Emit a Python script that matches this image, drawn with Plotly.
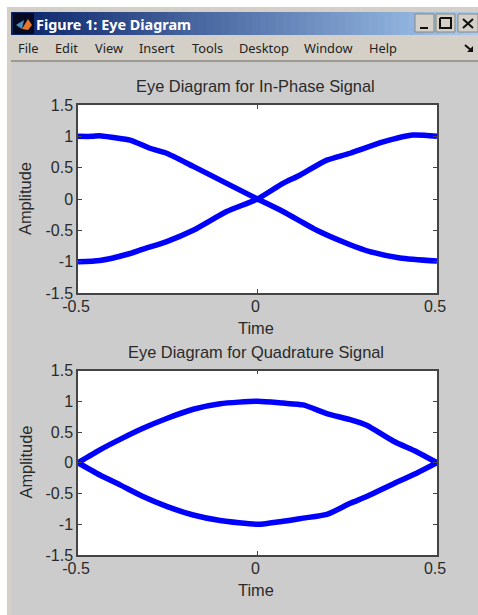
import plotly.graph_objects as go

# ---- data ----
t_in_down = [-0.5, -0.46, -0.44, -0.40, -0.355, -0.30, -0.253, -0.179, -0.086, 0.0, 0.071, 0.165, 0.258, 0.313, 0.397, 0.5]
v_in_down = [1.0, 1.0, 1.01, 0.98, 0.94, 0.81, 0.73, 0.52, 0.25, 0.0, -0.2, -0.5, -0.73, -0.84, -0.94, -0.99]
t_in_up = [-0.5, -0.439, -0.355, -0.319, -0.253, -0.179, -0.086, 0.0, 0.071, 0.118, 0.193, 0.258, 0.35, 0.433, 0.5]
v_in_up = [-1.0, -0.98, -0.87, -0.8, -0.68, -0.5, -0.2, 0.0, 0.25, 0.38, 0.62, 0.73, 0.91, 1.02, 1.0]
t_q = [-0.5, -0.439, -0.383, -0.319, -0.253, -0.179, -0.104, 0.0, 0.071, 0.127, 0.193, 0.258, 0.304, 0.379, 0.443, 0.5]
v_q_top = [0.0, 0.21, 0.38, 0.56, 0.72, 0.87, 0.96, 1.0, 0.97, 0.94, 0.80, 0.70, 0.61, 0.35, 0.18, 0.0]
v_q_bottom = [0.0, -0.2, -0.36, -0.55, -0.71, -0.85, -0.94, -1.0, -0.95, -0.90, -0.84, -0.66, -0.55, -0.34, -0.17, 0.0]

x_ticks = [-0.5, 0, 0.5]
x_labels = ["-0.5", "0", "0.5"]
y_ticks = [-1.5, -1, -0.5, 0, 0.5, 1, 1.5]
y_labels = ["-1.5", "-1", "-0.5", "0", "0.5", "1", "1.5"]

title_top = "Eye Diagram for In-Phase Signal"
title_bottom = "Eye Diagram for Quadrature Signal"
x_title = "Time"
y_title = "Amplitude"
window_title = "Figure 1: Eye Diagram"
menu_items = ["File", "Edit", "View", "Insert", "Tools", "Desktop", "Window", "Help"]
menu_x = [16, 53, 93, 137, 190, 237, 302, 367]

W, H = 478, 615
BLUE = "#0000ff"
INK = "#2a2a2a"
AX = "#444444"
FONT = "Liberation Sans"


def px(x):
    return x / W


def py(y):
    return 1 - y / H


def rect(x0, y0, x1, y1, fill, line=None):
    return dict(type="rect", xref="paper", yref="paper", x0=px(x0), x1=px(x1), y0=py(y1), y1=py(y0),
                fillcolor=fill, line=dict(width=1 if line else 0, color=line or fill), layer="below")


def path(points, fill=None, line=None, width=2):
    d = "M " + " L ".join(f"{px(a):.5f},{py(b):.5f}" for a, b in points)
    if fill:
        d += " Z"
    return dict(type="path", xref="paper", yref="paper", path=d, fillcolor=fill or "rgba(0,0,0,0)",
                line=dict(width=width if line else 0, color=line or "rgba(0,0,0,0)"), layer="above")


fig = go.Figure()
for xa, ya, t, v in [("x", "y", t_in_down, v_in_down), ("x", "y", t_in_up, v_in_up),
                     ("x2", "y2", t_q, v_q_top), ("x2", "y2", t_q, v_q_bottom)]:
    fig.add_trace(go.Scatter(x=t, y=v, xaxis=xa, yaxis=ya, mode="lines",
                             line=dict(color=BLUE, width=5.5, shape="spline", smoothing=0.6),
                             showlegend=False, hoverinfo="skip"))

# window frame: only strips around the client area, so the white plot backgrounds stay visible
shapes = [rect(0, 0, W, 7, "#ffffff"), rect(0, 0, 7, H, "#ffffff"),
          rect(7, 7, W, 62, "#d4d0c8"), rect(7, 7, 11, H, "#d4d0c8"),
          rect(11, 60, W, 62, "#9d9a92")]

# title bar gradient
n = 60
c0, c1 = (10, 36, 106), (166, 202, 240)
for i in range(n):
    f = i / (n - 1)
    col = "rgb(%d,%d,%d)" % tuple(round(a + (b - a) * f) for a, b in zip(c0, c1))
    shapes.append(rect(11 + (W - 11) * i / n, 12, 11 + (W - 11) * (i + 1) / n + 1, 35, col))

# icon
shapes.append(rect(13, 13, 34, 34, "#050a20"))
shapes.append(path([(22, 29), (28, 19), (32, 25), (28, 30)], fill="#e8742a"))
shapes.append(path([(16, 25), (24, 20), (22, 29)], fill="#4f8fc0"))

# window buttons
for x0, x1 in [(415, 434), (436, 455), (458, 478)]:
    shapes.append(rect(x0, 14, x1, 32, "#d4d0c8", "#8a8780"))
shapes.append(path([(420, 28), (428, 28)], line="#111111", width=2))
shapes.append(path([(440, 18), (451, 18), (451, 28), (440, 28), (440, 18)], line="#111111", width=2))
shapes.append(path([(463, 19), (473, 28)], line="#111111", width=2))
shapes.append(path([(473, 19), (463, 28)], line="#111111", width=2))
shapes.append(path([(465, 45), (472, 51)], line="#111111", width=2))
shapes.append(path([(473, 46), (473, 52), (467, 52)], fill="#111111"))

label_font = dict(family=FONT, size=16.4, color=INK)
annotations = [
    dict(text=f"<b>{window_title}</b>", x=px(34), y=py(24), xanchor="left", yanchor="middle",
         font=dict(family="Noto Sans", size=14.4, color="#ffffff")),
    dict(text=title_top, x=px(256), y=py(85.5), xanchor="center", yanchor="middle", font=label_font),
    dict(text=title_bottom, x=px(256), y=py(351.5), xanchor="center", yanchor="middle", font=label_font),
    dict(text=x_title, x=px(256), y=py(328), xanchor="center", yanchor="middle", font=label_font),
    dict(text=x_title, x=px(256), y=py(590), xanchor="center", yanchor="middle", font=label_font),
    dict(text=y_title, x=px(25), y=py(199), xanchor="center", yanchor="middle", textangle=-90, font=label_font),
    dict(text=y_title, x=px(25), y=py(462.5), xanchor="center", yanchor="middle", textangle=-90, font=label_font),
]
for name, xp in zip(menu_items, menu_x):
    annotations.append(dict(text=name, x=px(xp), y=py(48), xanchor="left", yanchor="middle",
                            font=dict(family="Noto Sans", size=12.8, color="#222222")))
for a in annotations:
    a.update(xref="paper", yref="paper", showarrow=False)


def x_axis(anchor):
    return dict(domain=[px(78), px(437)], range=[-0.5, 0.5], tickvals=x_ticks, ticktext=x_labels, anchor=anchor,
                ticks="inside", ticklen=4, tickwidth=1, tickcolor=AX, mirror="ticks", showline=True, linecolor=AX,
                linewidth=1.5, showgrid=False, zeroline=False, layer="above traces", automargin=False,
                tickfont=dict(family=FONT, size=16, color=INK), tickangle=0, ticklabelstandoff=-2, ticklabelshift=-2)


def y_axis(anchor, top, bottom):
    return dict(domain=[py(bottom), py(top)], range=[-1.5, 1.5], tickvals=y_ticks, ticktext=y_labels, anchor=anchor,
                ticks="inside", ticklen=4, tickwidth=1, tickcolor=AX, mirror="ticks", showline=True, linecolor=AX,
                linewidth=1.5, showgrid=False, zeroline=False, layer="above traces", automargin=False,
                tickfont=dict(family=FONT, size=16, color=INK))


fig.update_layout(
    width=W, height=H, autosize=False, margin=dict(l=0, r=0, t=0, b=0),
    paper_bgcolor="#cccccc", plot_bgcolor="#ffffff", showlegend=False,
    shapes=shapes, annotations=annotations,
    xaxis=x_axis("y"), yaxis=y_axis("x", 105, 293),
    xaxis2=x_axis("y2"), yaxis2=y_axis("x2", 370.5, 555),
)

fig.write_html("out.html", config=dict(displayModeBar=False),
               post_script="document.body.style.margin='0';document.body.style.overflow='hidden';")
